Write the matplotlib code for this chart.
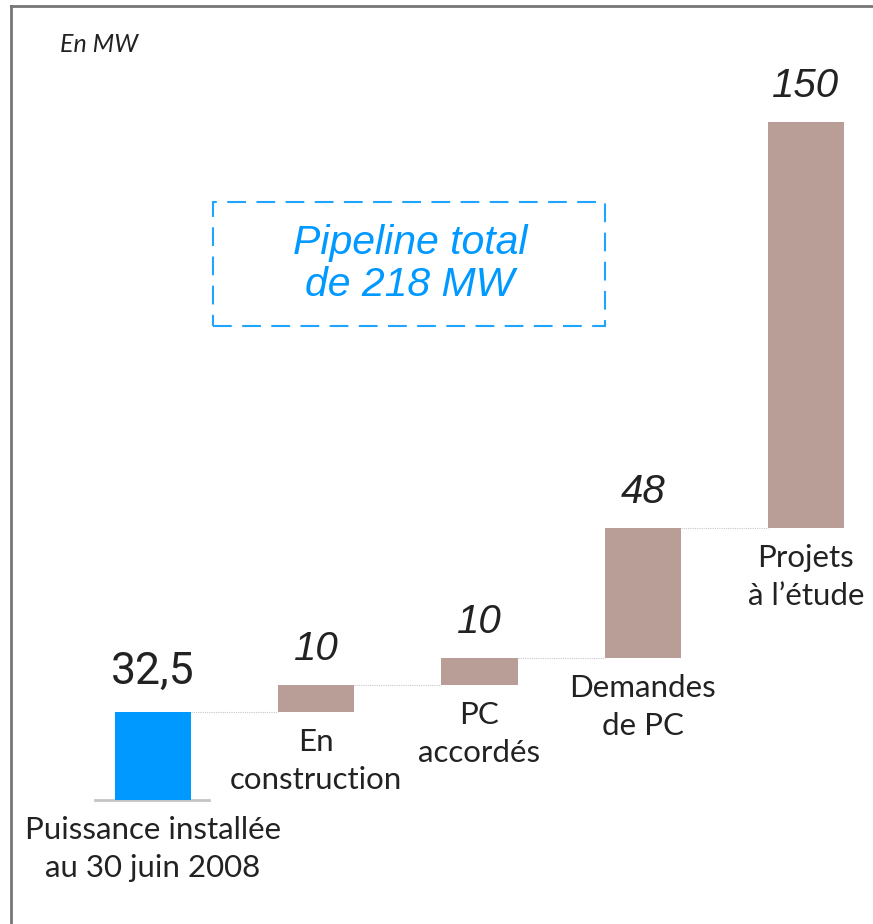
import matplotlib
matplotlib.use("Agg")
import matplotlib.pyplot as plt
from matplotlib.patches import Rectangle
from matplotlib.lines import Line2D

# waterfall data (MW)
categories = ["Puissance installée\nau 30 juin 2008", "En\nconstruction",
              "PC\naccordés", "Demandes\nde PC", "Projets\nà l\u2019étude"]
values = [32.5, 10, 10, 48, 150]
value_labels = ["32,5", "10", "10", "48", "150"]
pipeline_text = "Pipeline total\nde 218 MW"
unit_text = "En MW"

BLUE = "#0099FF"
BROWN = "#B89E96"
DARK = "#222222"

W, H = 873, 924
fig = plt.figure(figsize=(W / 100, H / 100), dpi=100)
ax = fig.add_axes([0, 0, 1, 1])
ax.set_axis_off()

# x: bar centres at ~153 px, spacing ~163 px ; y: 0 at 800 px, 250.5 at 122 px
step = 163.25
ppu = (800 - 122) / sum(values)
ax.set_xlim(-153 / step, (W - 153) / step)
ax.set_ylim(-(H - 800) / ppu, 800 / ppu)

bottoms = []
total = 0
for v in values:
    bottoms.append(total)
    total += v

width = 0.466
colors = [BLUE] + [BROWN] * (len(values) - 1)
ax.bar(range(len(values)), values, bottom=bottoms, width=width, color=colors)

# base line under the first bar
ax.plot([-0.355, 0.34], [0, 0], color="#C4C4C4", lw=2, zorder=0)

# connectors
for i in range(len(values) - 1):
    level = bottoms[i] + values[i]
    x0 = i + width / 2
    x1 = i + 1 - width / 2
    ax.plot([x0, x1], [level, level], color="#C8C8C8", lw=0.8,
            linestyle=(0, (1, 1)), zorder=0)

# value labels
for i, (v, lab) in enumerate(zip(values, value_labels)):
    top = bottoms[i] + v
    if i == 0:
        ax.annotate(lab, (i, top), xytext=(0, 28), textcoords="offset pixels",
                    ha="center", va="baseline", fontsize=32, color=DARK,
                    family="Roboto")
    else:
        ax.annotate(lab, (i, top), xytext=(0, 25), textcoords="offset pixels",
                    ha="center", va="baseline", fontsize=29, color=DARK,
                    family="Liberation Sans", style="italic")

# category labels
for i, cat in enumerate(categories):
    ax.annotate(cat, (i, bottoms[i]), xytext=(0, -16), textcoords="offset pixels",
                ha="center", va="top", fontsize=22.5, color=DARK,
                family="Lato", linespacing=1.45)

# unit
fig.text(60 / W, 1 - 44 / H, unit_text, fontsize=18, style="italic",
         color=DARK, family="Lato", va="center", ha="left")

# pipeline box
fig.patches.append(Rectangle((213 / W, 1 - 326 / H), 392 / W, 124 / H,
                             transform=fig.transFigure, fill=False,
                             edgecolor="#1FA5FF", lw=1.5,
                             linestyle=(0, (9, 5))))
fig.text(410 / W, 1 - 264 / H, pipeline_text, fontsize=29.5, style="italic",
         color=BLUE, family="Liberation Sans", ha="center", va="center",
         linespacing=1.1)

# frame (left and top only)
fig.add_artist(Line2D([10.5 / W, 10.5 / W], [0, 1 - 6 / H],
                      transform=fig.transFigure, color="#777777", lw=2))
fig.add_artist(Line2D([10.5 / W, 1], [1 - 6 / H, 1 - 6 / H],
                      transform=fig.transFigure, color="#777777", lw=2))

fig.savefig("out.png", dpi=100)
